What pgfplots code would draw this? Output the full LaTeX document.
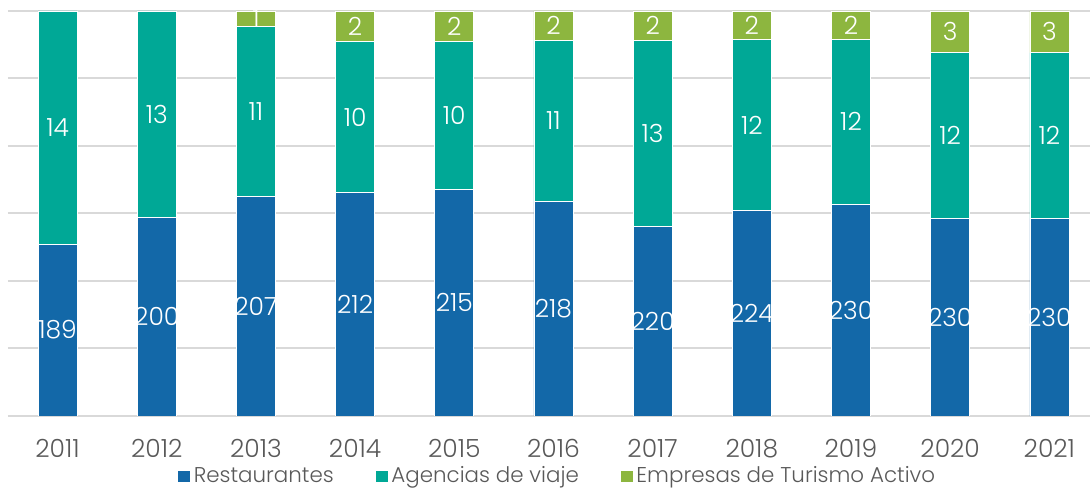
\documentclass[border=0pt]{standalone}
\usepackage{pgfplots}
\pgfplotsset{compat=1.18}
\usepackage{pgfplotstable}
\usepackage{fontspec}
\setmainfont{Poppins}[UprightFont=* Light]
\definecolor{cRest}{HTML}{1368A8}
\definecolor{cAg}{HTML}{00A896}
\definecolor{cEmp}{HTML}{8DB63F}
\definecolor{cGrid}{HTML}{D9D9D9}
\definecolor{cTxt}{HTML}{595959}

% bar heights as drawn (grid units; full bar = 6)
\pgfplotstableread{
x R A E
0 2.544 3.456 0
1 2.943 3.057 0
2 3.255 2.513 0.232
3 3.314 2.232 0.454
4 3.353 2.198 0.449
5 3.180 2.381 0.439
6 2.805 2.761 0.434
7 3.047 2.528 0.425
8 3.131 2.454 0.415
9 2.928 2.455 0.617
10 2.928 2.455 0.617
}\bars

% label positions (segment centres) and printed values
\pgfplotstableread{
x y lab
0 1.272 189
1 1.4715 200
2 1.6275 207
3 1.657 212
4 1.6765 215
5 1.590 218
6 1.4025 220
7 1.5235 224
8 1.5655 230
9 1.464 230
10 1.464 230
}\labR
\pgfplotstableread{
x y lab
0 4.272 14
1 4.4715 13
2 4.5115 11
3 4.430 10
4 4.452 10
5 4.3705 11
6 4.1855 13
7 4.311 12
8 4.358 12
9 4.1555 12
10 4.1555 12
}\labA
\pgfplotstableread{
x y lab
2 5.884 1
3 5.773 2
4 5.7755 2
5 5.7805 2
6 5.783 2
7 5.7875 2
8 5.7925 2
9 5.6915 3
10 5.6915 3
}\labE

\begin{document}
\begin{tikzpicture}
\useasboundingbox (-4pt,-37pt) rectangle (541pt,208pt);
\pgfplotsset{
  base/.style={
    scale only axis, width=541pt, height=202.5pt,
    xmin=-0.5, xmax=10.41, ymin=0, ymax=6,
    axis line style={draw=none}, tick style={draw=none},
  }
}
\begin{axis}[base,
  ybar stacked, bar width=19.5pt,
  ytick={0,1,2,3,4,5,6}, yticklabels={},
  ymajorgrids, major grid style={cGrid, line width=1pt},
  xtick=data,
  xticklabels={2011,2012,2013,2014,2015,2016,2017,2018,2019,2020,2021},
  xticklabel style={font=\fontsize{12.5}{13}\selectfont, text=cTxt, yshift=-8pt},
  legend style={at={(0.508,-0.149)}, anchor=center, draw=none, fill=none,
    legend columns=3, font=\fontsize{10.7}{12}\selectfont, text=cTxt,
    /tikz/every even column/.append style={column sep=19pt},
    nodes={inner sep=1.5pt},
    inner sep=0pt},
  legend image code/.code={\fill[#1] (0pt,-3.2pt) rectangle (6.5pt,3.2pt);},
]
\addplot[fill=cRest, draw=white, line width=0.3pt] table[x=x,y=R] {\bars};
\addplot[fill=cAg, draw=white, line width=0.3pt] table[x=x,y=A] {\bars};
\addplot[fill=cEmp, draw=white, line width=0.3pt] table[x=x,y=E] {\bars};
\legend{Restaurantes, Agencias de viaje, Empresas de Turismo Activo}
\end{axis}
\begin{axis}[base, xtick=\empty, ytick=\empty,
  nodes near coords, point meta=explicit symbolic,
  every node near coord/.append style={anchor=center, text=white,
    font=\fontsize{12.5}{13}\selectfont, inner sep=0pt}]
\addplot[draw=none, mark=none] table[x=x,y=y,meta=lab] {\labR};
\addplot[draw=none, mark=none] table[x=x,y=y,meta=lab] {\labA};
\addplot[draw=none, mark=none] table[x=x,y=y,meta=lab] {\labE};
\end{axis}
\end{tikzpicture}
\end{document}
